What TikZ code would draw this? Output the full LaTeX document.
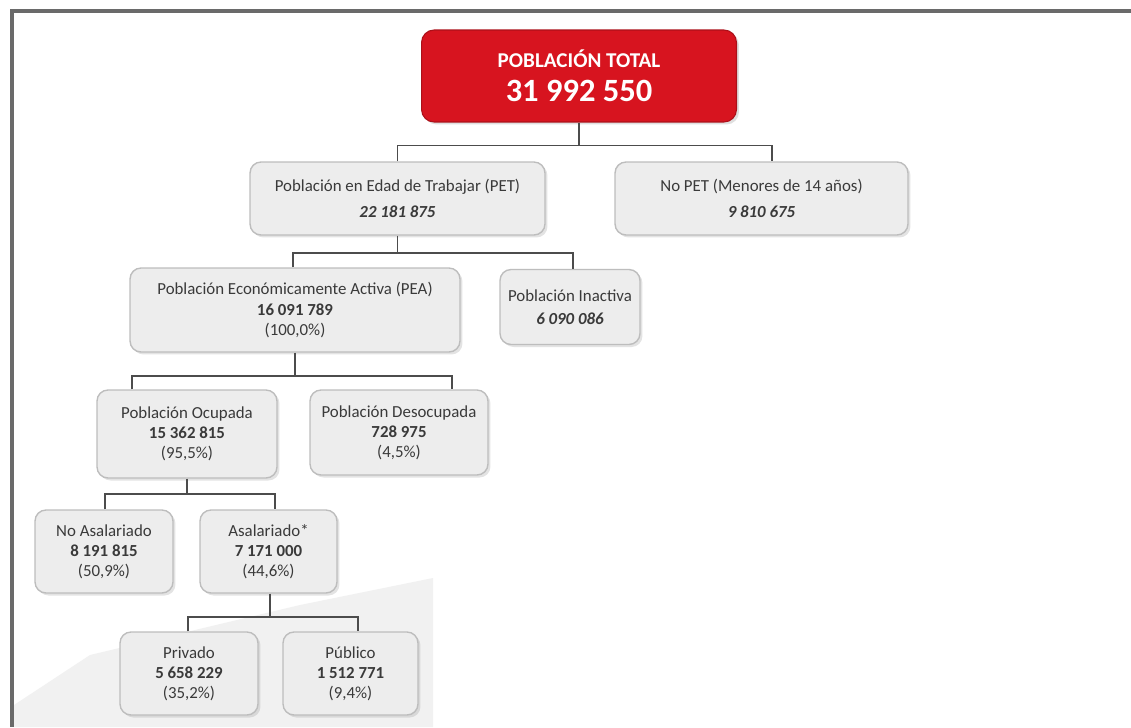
\documentclass[tikz,border=0pt]{standalone}
\usepackage{fontspec}
\setmainfont{Carlito}
\usetikzlibrary{calc,shadows}
\definecolor{tred}{HTML}{D7141F}
\definecolor{frameg}{HTML}{6A6A6A}
\definecolor{boxfill}{HTML}{EDEDED}
\definecolor{boxline}{HTML}{BDBDBD}
\definecolor{txt}{HTML}{3A3A3A}
\definecolor{bgpoly}{HTML}{F1F1F1}
\begin{document}
\begin{tikzpicture}[x=0.02cm,y=-0.02cm,
  gbox/.style={draw=boxline, fill=boxfill, rounded corners=0.22cm, line width=0.8pt,
    align=center, inner sep=0pt, text=txt, font=\fontsize{9.6}{11.4}\selectfont,
    drop shadow={opacity=0.22, shadow xshift=0.05cm, shadow yshift=-0.05cm}},
  topbox/.style={draw=tred!80!black, fill=tred, rounded corners=0.25cm, line width=0.6pt,
    align=center, inner sep=0pt, text=white,
    drop shadow={opacity=0.25, shadow xshift=0.05cm, shadow yshift=-0.05cm}},
  conn/.style={draw=black!70, line width=1.1pt},
  frame/.style={draw=frameg, line width=1.8pt}
]
\useasboundingbox (0,0) rectangle (1131,727);
\fill[white] (0,0) rectangle (1131,727);
% light background patch bottom-left
\fill[bgpoly] (14,705) -- (90,655) -- (300,605) -- (433,578) -- (433,727) -- (14,727) -- cycle;
% frame
\draw[frame] (10,11) -- (1131,11);
\draw[frame] (12,10) -- (12,727);

% nodes
\node[topbox, minimum width=6.3cm, minimum height=1.84cm] (top) at (579,76)
  {{\fontsize{12}{13}\selectfont\bfseries POBLACIÓN TOTAL}\\[6pt]{\fontsize{18.5}{20}\selectfont\bfseries 31 992 550}};

\node[gbox, minimum width=5.9cm, minimum height=1.46cm] (pet) at (397.5,198.5)
  {Población en Edad de Trabajar (PET)\\[3pt]\textbf{\textit{22 181 875}}};
\node[gbox, minimum width=5.86cm, minimum height=1.46cm] (nopet) at (761.5,198.5)
  {No PET (Menores de 14 años)\\[3pt]\textbf{\textit{9 810 675}}};

\node[gbox, minimum width=6.6cm, minimum height=1.68cm] (pea) at (295,310)
  {Población Económicamente Activa (PEA)\\\textbf{16 091 789}\\(100,0\%)};
\node[gbox, minimum width=2.8cm, minimum height=1.5cm] (inact) at (570,307)
  {Población Inactiva\\[1.5pt]\textbf{\textit{6 090 086}}};

\node[gbox, minimum width=3.6cm, minimum height=1.76cm] (ocu) at (187,434)
  {Población Ocupada\\\textbf{15 362 815}\\(95,5\%)};
\node[gbox, minimum width=3.56cm, minimum height=1.7cm] (deso) at (399,432.5)
  {Población Desocupada\\\textbf{728 975}\\(4,5\%)};

\node[gbox, minimum width=2.76cm, minimum height=1.66cm] (noasal) at (104,551.5)
  {No Asalariado\\\textbf{8 191 815}\\(50,9\%)};
\node[gbox, minimum width=2.74cm, minimum height=1.66cm] (asal) at (268.5,551.5)
  {Asalariado*\\\textbf{7 171 000}\\(44,6\%)};

\node[gbox, minimum width=2.76cm, minimum height=1.66cm] (priv) at (189,673.5)
  {Privado\\\textbf{5 658 229}\\(35,2\%)};
\node[gbox, minimum width=2.7cm, minimum height=1.66cm] (pub) at (350.5,673.5)
  {Público\\\textbf{1 512 771}\\(9,4\%)};

% connectors
\coordinate (b1) at ($(top.south)+(0,23)$);
\draw[conn] (top.south) -- (b1);
\draw[conn] (pet.north) |- (b1) -| ($(nopet.north)+(10.5,0)$);

\coordinate (b2) at ($(pet.south)+(0,17)$);
\draw[conn] (pet.south) -- (b2);
\draw[conn] ($(pea.north)+(-2,0)$) |- (b2) -| ($(inact.north)+(3,0)$);

\coordinate (b3) at ($(pea.south)+(0,23)$);
\draw[conn] (pea.south) -- (b3);
\draw[conn] ($(ocu.north)+(-55,0)$) |- (b3) -| ($(deso.north)+(53,0)$);

\coordinate (b4) at ($(ocu.south)+(0,15)$);
\draw[conn] (ocu.south) -- (b4);
\draw[conn] ($(noasal.north)+(1,0)$) |- (b4) -| ($(asal.north)+(6.5,0)$);

\coordinate (b5) at ($(asal.south)+(1.5,23)$);
\draw[conn] ($(asal.south)+(1.5,0)$) -- (b5);
\draw[conn] ($(priv.north)+(-1,0)$) |- (b5) -| ($(pub.north)+(7.5,0)$);
\end{tikzpicture}
\end{document}
